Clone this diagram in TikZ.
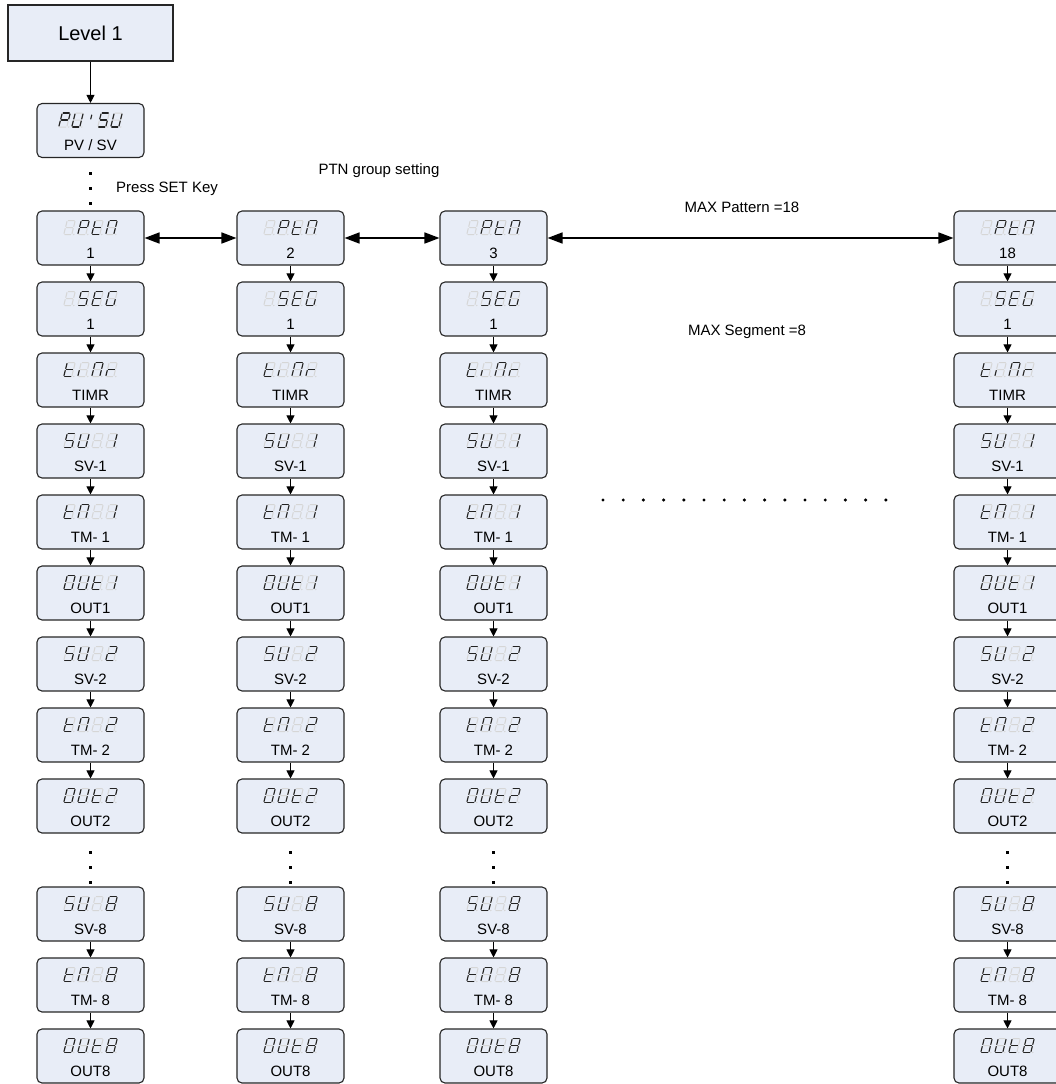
\documentclass[tikz,border=0pt]{standalone}
\usepackage{fontspec}
\setmainfont{Liberation Sans}
\usetikzlibrary{arrows.meta}
\definecolor{boxfill}{RGB}{232,237,247}
\definecolor{dimseg}{RGB}{214,214,214}
\definecolor{litseg}{RGB}{35,35,35}
\tikzset{
  dbox/.style={draw=black!85,line width=1.1pt,rounded corners=5pt,fill=boxfill,minimum width=107pt,minimum height=54pt,inner sep=0pt},
  topbox/.style={draw=black!85,line width=1.1pt,fill=boxfill,minimum width=165pt,minimum height=56pt,inner sep=0pt,font=\fontsize{20}{24}\selectfont},
  lbl/.style={font=\fontsize{15}{18}\selectfont,inner sep=0pt},
  note/.style={font=\fontsize{15}{18}\selectfont,inner sep=0pt},
  segon/.style={draw=litseg,line width=1.1pt,line cap=round},
  segoff/.style={draw=dimseg,line width=1pt,line cap=round},
  varr/.style={line width=1pt,-{Triangle[length=8pt,width=8pt]}},
  harr/.style={line width=1.6pt,{Triangle[length=15pt,width=11pt]}-{Triangle[length=15pt,width=11pt]}},
  bigdot/.style={fill=black}
}
\newcommand\sdigit[3]{%
\begin{scope}[shift={(#1,#2)},xslant=0.25]
 \draw[segoff] (-3,-7)--(3,-7) (4,-6)--(4,-1) (4,1)--(4,6) (-3,7)--(3,7) (-4,1)--(-4,6) (-4,-6)--(-4,-1) (-3,0)--(3,0);
 \fill[dimseg] (6,7) circle (0.8);
 \foreach \s in {#3}{%
   \if a\s \draw[segon] (-3,-7)--(3,-7);\fi
   \if b\s \draw[segon] (4,-6)--(4,-1);\fi
   \if c\s \draw[segon] (4,1)--(4,6);\fi
   \if d\s \draw[segon] (-3,7)--(3,7);\fi
   \if e\s \draw[segon] (-4,1)--(-4,6);\fi
   \if f\s \draw[segon] (-4,-6)--(-4,-1);\fi
   \if g\s \draw[segon] (-3,0)--(3,0);\fi
 }
\end{scope}}
\newcommand\disp[6]{%
 \sdigit{#1-21}{#2}{#3}\sdigit{#1-7}{#2}{#4}\sdigit{#1+7}{#2}{#5}\sdigit{#1+21}{#2}{#6}}
\newcommand\dbox[8]{%
 \node[dbox] (#1) at (#2,#3) {};
 \node[lbl] (#1t) at (#2,#3+15) {#4};
 \disp{#2}{#3-10.5}{#5}{#6}{#7}{#8}}
\begin{document}
\begin{tikzpicture}[x=1pt,y=-1pt]
\useasboundingbox (0,0) rectangle (1056,1084);
% level 1 and PV/SV
\node[topbox] (L1) at (90.5,33) {Level 1};
\node[dbox] (pv) at (90.5,130.5) {};
\node[lbl] (pvt) at (90.5,145.5) {PV / SV};
\sdigit{64.5}{120}{a,b,e,f,g}
\sdigit{77.5}{120}{b,c,d,e,f}
\begin{scope}[shift={(90.5,120)},xslant=0.25]
 \draw[segon] (0,-5)--(0,-1);
\end{scope}
\sdigit{103.5}{120}{a,f,g,c,d}
\sdigit{116.5}{120}{b,c,d,e,f}
\draw[varr] (L1) -- (pv);
\foreach \yy in {172,187,202} \fill[bigdot] (89,\yy) rectangle (92,\yy+3);
\node[note,anchor=west] (press) at (116,189) {Press SET Key};
\node[note] (ptng) at (379,171) {PTN group setting};
\node[note] (maxp) at (742,207) {MAX Pattern =18};
\node[note] (maxs) at (747,332) {MAX Segment =8};
% columns
\foreach \c/\x/\n in {1/90.5/1,2/290.5/2,3/493.5/3,4/1007.5/18}{
 \dbox{r0c\c}{\x}{238}{\n}{z}{a,b,e,f,g}{d,e,f,g}{a,b,c,e,f}
 \dbox{r1c\c}{\x}{309}{1}{z}{a,f,g,c,d}{a,f,g,e,d}{a,f,e,d,c}
 \dbox{r2c\c}{\x}{380}{TIMR}{d,e,f,g}{e}{a,b,c,e,f}{e,g}
 \dbox{r3c\c}{\x}{451}{SV-1}{a,f,g,c,d}{b,c,d,e,f}{z}{b,c}
 \dbox{r4c\c}{\x}{522}{TM- 1}{d,e,f,g}{a,b,c,e,f}{z}{b,c}
 \dbox{r5c\c}{\x}{593}{OUT1}{a,b,c,d,e,f}{b,c,d,e,f}{d,e,f,g}{b,c}
 \dbox{r6c\c}{\x}{664}{SV-2}{a,f,g,c,d}{b,c,d,e,f}{z}{a,b,g,e,d}
 \dbox{r7c\c}{\x}{735}{TM- 2}{d,e,f,g}{a,b,c,e,f}{z}{a,b,g,e,d}
 \dbox{r8c\c}{\x}{806}{OUT2}{a,b,c,d,e,f}{b,c,d,e,f}{d,e,f,g}{a,b,g,e,d}
 \dbox{r9c\c}{\x}{914}{SV-8}{a,f,g,c,d}{b,c,d,e,f}{z}{a,b,c,d,e,f,g}
 \dbox{r10c\c}{\x}{985}{TM- 8}{d,e,f,g}{a,b,c,e,f}{z}{a,b,c,d,e,f,g}
 \dbox{r11c\c}{\x}{1056}{OUT8}{a,b,c,d,e,f}{b,c,d,e,f}{d,e,f,g}{a,b,c,d,e,f,g}
 \foreach \i [evaluate=\i as \j using int(\i+1)] in {0,...,7,9,10}{
   \draw[varr] (r\i c\c) -- (r\j c\c);
 }
 \foreach \yy in {851,866,881} \fill[bigdot] (\x-1.5,\yy) rectangle (\x+1.5,\yy+3);
}
\draw[harr] (r0c1) -- (r0c2);
\draw[harr] (r0c2) -- (r0c3);
\draw[harr] (r0c3) -- (r0c4);
\foreach \k in {0,...,14} \fill[bigdot] (603+\k*20.2,500) circle (1.7);
\end{tikzpicture}
\end{document}
